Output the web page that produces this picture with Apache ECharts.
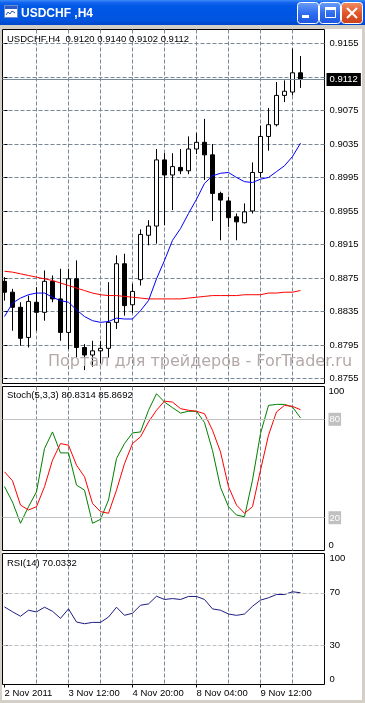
<!DOCTYPE html>
<html>
<head>
<meta charset="utf-8">
<script src="https://cdn.jsdelivr.net/npm/echarts@6/dist/echarts.min.js"></script>
<style>
html,body{margin:0;padding:0;background:#fff;}
#c{width:365px;height:703px;}
</style>
</head>
<body>
<div id="c"></div>
<script>
// ---------- DATA ----------
const barTimes = ['2 Nov 04:00','2 Nov 08:00','2 Nov 12:00','2 Nov 16:00','2 Nov 20:00','3 Nov 00:00','3 Nov 04:00','3 Nov 08:00','3 Nov 12:00','3 Nov 16:00','3 Nov 20:00','4 Nov 00:00','4 Nov 04:00','4 Nov 08:00','4 Nov 12:00','4 Nov 16:00','4 Nov 20:00','7 Nov 00:00','7 Nov 04:00','7 Nov 08:00','7 Nov 12:00','7 Nov 16:00','7 Nov 20:00','8 Nov 00:00','8 Nov 04:00','8 Nov 08:00','8 Nov 12:00','8 Nov 16:00','8 Nov 20:00','9 Nov 00:00','9 Nov 04:00','9 Nov 08:00','9 Nov 12:00','9 Nov 16:00','9 Nov 20:00','10 Nov 00:00','10 Nov 04:00','10 Nov 08:00'];

const openP  = [0.8871,0.8858,0.8840,0.8804,0.8846,0.8834,0.8871,0.8850,0.8810,0.8874,0.8792,0.8783,0.8788,0.8791,0.8822,0.8892,0.8843,0.8873,0.8926,0.8937,0.9016,0.8998,0.9007,0.9003,0.9029,0.9037,0.9022,0.8976,0.8967,0.8948,0.8941,0.8955,0.9001,0.9044,0.9058,0.9093,0.9097,0.9120];
const highP  = [0.8876,0.8862,0.8846,0.8854,0.8864,0.8884,0.8878,0.8886,0.8886,0.8896,0.8796,0.8800,0.8800,0.8870,0.8902,0.8904,0.8868,0.8933,0.8944,0.9029,0.9024,0.9024,0.9029,0.9044,0.9048,0.9065,0.9035,0.8978,0.8972,0.8952,0.8964,0.9013,0.9057,0.9078,0.9109,0.9111,0.9149,0.9140];
const lowP   = [0.8848,0.8812,0.8794,0.8792,0.8812,0.8824,0.8846,0.8800,0.8790,0.8780,0.8765,0.8769,0.8773,0.8780,0.8814,0.8830,0.8833,0.8866,0.8914,0.8916,0.8938,0.8956,0.8999,0.8999,0.9023,0.8992,0.8943,0.8920,0.8936,0.8920,0.8940,0.8952,0.8995,0.9027,0.9056,0.9085,0.9093,0.9102];
const closeP = [0.8858,0.8840,0.8803,0.8847,0.8834,0.8871,0.8850,0.8810,0.8874,0.8792,0.8783,0.8788,0.8791,0.8822,0.8892,0.8842,0.8859,0.8927,0.8937,0.9016,0.8998,0.9008,0.9003,0.9029,0.9037,0.9022,0.8976,0.8968,0.8947,0.8942,0.8954,0.9001,0.9044,0.9058,0.9093,0.9098,0.9120,0.9112];

const maFast = [0.8829,0.8845,0.8851,0.8855,0.8857,0.8857,0.8852,0.8848,0.8846,0.8837,0.8829,0.8824,0.8822,0.8823,0.8827,0.8826,0.8826,0.8836,0.8848,0.8874,0.8896,0.8920,0.8934,0.8952,0.8969,0.8988,0.8997,0.9000,0.9001,0.8995,0.8990,0.8989,0.8993,0.8995,0.9002,0.9009,0.9020,0.9036];
const maSlow = [0.8883,0.8882,0.8880,0.8878,0.8876,0.8874,0.8872,0.8869,0.8866,0.8863,0.8860,0.8857,0.8855,0.8854,0.8854,0.8853,0.8852,0.8851,0.8850,0.8850,0.8850,0.8850,0.8850,0.8851,0.8852,0.8853,0.8854,0.8854,0.8854,0.8854,0.8855,0.8855,0.8855,0.8857,0.8857,0.8858,0.8858,0.8860];

const stochMain   = [39,29.5,16.6,26.7,35.8,62.2,72.3,59.5,59.5,39.9,36.8,16.6,19,30.8,56.1,65.2,71.7,72.3,85.5,95.6,90.5,87.1,83.8,84.9,84.9,78,61,38.5,26.7,21.6,20.6,42.9,71.3,88.5,89.1,89.1,87.5,80.8314];
const stochSignal = [48,42.5,27.7,24.7,26.7,38.9,55.1,65.2,64.2,52,45,28.7,23.7,22.7,36.8,53,65.2,69.3,78.4,85.5,91.1,90.5,86.5,85.5,84.9,83.4,73.3,60.1,38.9,27.7,22.7,26.7,49,70.3,84.5,88.5,87.9,85.8692];
const rsiValues   = [59.2,55.5,52.1,56.7,55.4,59,55.9,50.5,57.7,47.7,46.4,47.4,47.4,51.5,59,52.8,54.4,60.5,61.5,67.4,64.9,65.6,64.9,67.2,67.2,64.9,57.7,56.7,53.8,52.8,53.8,59.7,64.4,66.2,68.7,68.7,70.8,70.0332];

const priceGridLevels  = [0.8755,0.8795,0.8835,0.8875,0.8915,0.8955,0.8995,0.9035,0.9075,0.9115,0.9155];
const priceLabelLevels = [0.8755,0.8795,0.8835,0.8875,0.8915,0.8955,0.8995,0.9035,0.9075,0.9155];
const stochLabelLevels = [0,20,80,100];
const stochLevels = [20,80];
const rsiLabelLevels = [0,30,70,100];
const rsiLevels = [30,70];
const gridBars = [4,8,12,16,20,24,28,32,36];
const xLabelBars = [0,8,16,24,32];
const xLabelTexts = ['2 Nov 2011','3 Nov 12:00','4 Nov 20:00','8 Nov 04:00','9 Nov 12:00'];

// ---------- CHART ----------
const FONT = '"Liberation Sans", Arial, sans-serif';
const GRIDC = '#778899';
const FRAME = '#d4d0c8';
const X_MIN = -0.25, X_MAX = 40;
const P_MIN = 0.87490, P_MAX = 0.91717;
const last = closeP.length - 1;

const candles = barTimes.map((t, i) => [i, openP[i], closeP[i], lowP[i], highP[i]]);
const pts = arr => arr.map((v, i) => [i, v]);

function splitX(gridIndex, extra) {
  return Object.assign({
    type: 'value', gridIndex: gridIndex, min: X_MIN, max: X_MAX,
    axisLine: {show: false}, axisLabel: {show: false},
    axisTick: {show: false, customValues: gridBars},
    splitLine: {show: true, lineStyle: {color: GRIDC, type: [4, 2], width: 1}}
  }, extra || {});
}
const lblStyle = {color: '#000', fontSize: 9.5, fontFamily: FONT};

const LG = (stops) => new echarts.graphic.LinearGradient(0, 0, 0, 1, stops.map(c => ({offset: c[0], color: c[1]})));

const option = {
  animation: false,
  backgroundColor: '#ffffff',
  textStyle: {fontFamily: FONT},
  grid: [
    {left: 2.5, top: 29.5, width: 322, height: 354, show: true, borderColor: '#000', borderWidth: 1, backgroundColor: 'transparent'},
    {left: 2.5, top: 386.5, width: 322, height: 164, show: true, borderColor: '#000', borderWidth: 1, backgroundColor: 'transparent'},
    {left: 2.5, top: 553.5, width: 322, height: 131, show: true, borderColor: '#000', borderWidth: 1, backgroundColor: 'transparent'}
  ],
  xAxis: [
    splitX(0), splitX(1), splitX(2, {position: 'top'}),
    {
      type: 'value', gridIndex: 2, position: 'bottom', min: X_MIN, max: X_MAX,
      axisLine: {show: false}, splitLine: {show: false},
      axisTick: {show: true, customValues: xLabelBars, length: 3, lineStyle: {color: '#000'}},
      axisLabel: Object.assign({show: true, customValues: xLabelBars, align: 'left', margin: 4,
        formatter: v => xLabelTexts[xLabelBars.indexOf(Math.round(v))] || ''}, lblStyle)
    }
  ],
  yAxis: [
    {
      type: 'value', gridIndex: 0, position: 'right', min: P_MIN, max: P_MAX,
      axisLine: {show: false},
      axisTick: {show: true, customValues: priceGridLevels, length: 3, lineStyle: {color: '#000'}},
      axisLabel: Object.assign({customValues: priceLabelLevels, margin: 5, formatter: v => v.toFixed(4)}, lblStyle),
      splitLine: {show: true, lineStyle: {color: GRIDC, type: [4, 2], width: 1}}
    },
    {
      type: 'value', gridIndex: 1, position: 'right', min: 0, max: 100,
      axisLine: {show: false}, splitLine: {show: false},
      axisTick: {show: true, customValues: stochLabelLevels, length: 3, lineStyle: {color: '#000'}},
      axisLabel: Object.assign({customValues: stochLabelLevels, margin: 4,
        verticalAlignMinLabel: 'bottom', verticalAlignMaxLabel: 'top',
        formatter: v => stochLevels.indexOf(v) >= 0 ? '{lvl|' + v + '}' : String(v),
        rich: {lvl: {backgroundColor: '#c0c0c0', color: '#fff', fontSize: 9.5, fontFamily: FONT, padding: [2, 1, 1, 1]}}
      }, lblStyle)
    },
    {
      type: 'value', gridIndex: 2, position: 'right', min: 0, max: 100,
      axisLine: {show: false}, splitLine: {show: false},
      axisTick: {show: true, customValues: rsiLabelLevels, length: 3, lineStyle: {color: '#000'}},
      axisLabel: Object.assign({customValues: rsiLabelLevels, margin: 5,
        verticalAlignMinLabel: 'bottom', verticalAlignMaxLabel: 'top',
        formatter: v => String(v)}, lblStyle)
    }
  ],
  series: [
    {
      type: 'candlestick', name: 'USDCHF,H4', xAxisIndex: 0, yAxisIndex: 0,
      data: candles, barWidth: 4,
      itemStyle: {color: '#ffffff', color0: '#000000', borderColor: '#000000', borderColor0: '#000000', borderWidth: 1}
    },
    {type: 'line', name: 'MA slow', xAxisIndex: 0, yAxisIndex: 0, data: pts(maSlow), showSymbol: false, symbol: 'none',
     lineStyle: {color: '#ff0000', width: 1}, z: 3,
     markLine: {
        silent: true, symbol: ['none', 'none'], animation: false, precision: 4,
        lineStyle: {color: GRIDC, type: 'solid', width: 1},
        label: {show: true, position: 'end', distance: 2, formatter: () => closeP[last].toFixed(4),
          backgroundColor: '#000', color: '#fff', fontSize: 9.5, fontFamily: FONT, padding: [2, 3, 1, 3]},
        data: [{yAxis: closeP[last]}]
     }},
    {type: 'line', name: 'MA fast', xAxisIndex: 0, yAxisIndex: 0, data: pts(maFast), showSymbol: false, symbol: 'none',
     lineStyle: {color: '#0000ff', width: 1}, z: 3},
    {type: 'line', name: 'Stoch main', xAxisIndex: 1, yAxisIndex: 1, data: pts(stochMain), showSymbol: false, symbol: 'none',
     lineStyle: {color: '#008000', width: 1},
     markLine: {silent: true, symbol: ['none', 'none'], label: {show: false},
       lineStyle: {color: '#c0c0c0', type: 'solid', width: 1},
       data: stochLevels.map(v => ({yAxis: v}))}},
    {type: 'line', name: 'Stoch signal', xAxisIndex: 1, yAxisIndex: 1, data: pts(stochSignal), showSymbol: false, symbol: 'none',
     lineStyle: {color: '#ff0000', width: 1}},
    {type: 'line', name: 'RSI(14)', xAxisIndex: 2, yAxisIndex: 2, data: pts(rsiValues), showSymbol: false, symbol: 'none',
     lineStyle: {color: '#1c1c84', width: 1},
     markLine: {silent: true, symbol: ['none', 'none'], label: {show: false},
       lineStyle: {color: '#c0c0c0', type: [4, 2], width: 1},
       data: rsiLevels.map(v => ({yAxis: v}))}}
  ],
  graphic: [
    // window frame
    {type: 'rect', z: 50, silent: true, shape: {x: 0, y: 25, width: 365, height: 4}, style: {fill: FRAME}},
    {type: 'rect', z: 50, silent: true, shape: {x: 0, y: 25, width: 2, height: 678}, style: {fill: FRAME}},
    {type: 'rect', z: 50, silent: true, shape: {x: 362, y: 25, width: 3, height: 678}, style: {fill: FRAME}},
    {type: 'rect', z: 50, silent: true, shape: {x: 0, y: 700, width: 365, height: 3}, style: {fill: FRAME}},
    // title bar
    {type: 'rect', z: 50, silent: true, shape: {x: 0, y: 0, width: 365, height: 25},
     style: {fill: LG([[0, '#3d8af7'], [0.1, '#1566ee'], [0.25, '#0058e6'], [0.8, '#0054e0'], [1, '#0046c8']])}},
    // icon
    {type: 'rect', z: 51, silent: true, shape: {x: 4.5, y: 5.5, width: 13, height: 12}, style: {fill: '#ffffff', stroke: '#6f8fc8', lineWidth: 1}},
    {type: 'rect', z: 52, silent: true, shape: {x: 5, y: 6, width: 12, height: 3}, style: {fill: '#2b5cc8'}},
    {type: 'polyline', z: 52, silent: true, shape: {points: [[6, 15], [8, 12], [10, 14], [12, 11], [15, 13]]}, style: {stroke: '#2b5cc8', lineWidth: 1, fill: 'none'}},
    {type: 'text', z: 52, silent: true, style: {text: 'USDCHF ,H4', x: 21, y: 13.5, fill: '#ffffff', fontSize: 12, fontWeight: 'bold', fontFamily: FONT, verticalAlign: 'middle',
      textShadowColor: '#0a2a80', textShadowOffsetX: 1, textShadowOffsetY: 1, textShadowBlur: 0}},
    // buttons
    {type: 'rect', z: 51, silent: true, shape: {x: 297.5, y: 2.5, width: 21, height: 21, r: 3}, style: {fill: LG([[0, '#6fa0f8'], [0.5, '#2f6ef0'], [1, '#1b55dc']]), stroke: '#ffffff', lineWidth: 1}},
    {type: 'rect', z: 52, silent: true, shape: {x: 302, y: 15, width: 7, height: 3}, style: {fill: '#ffffff'}},
    {type: 'rect', z: 51, silent: true, shape: {x: 319.5, y: 2.5, width: 21, height: 21, r: 3}, style: {fill: LG([[0, '#6fa0f8'], [0.5, '#2f6ef0'], [1, '#1b55dc']]), stroke: '#ffffff', lineWidth: 1}},
    {type: 'rect', z: 52, silent: true, shape: {x: 325.5, y: 7.5, width: 10, height: 10}, style: {fill: 'none', stroke: '#ffffff', lineWidth: 1}},
    {type: 'rect', z: 52, silent: true, shape: {x: 325, y: 7, width: 11, height: 3}, style: {fill: '#ffffff'}},
    {type: 'rect', z: 51, silent: true, shape: {x: 341.5, y: 2.5, width: 21, height: 21, r: 3}, style: {fill: LG([[0, '#f0916a'], [0.5, '#e2582c'], [1, '#c8401c']]), stroke: '#ffffff', lineWidth: 1}},
    {type: 'line', z: 52, silent: true, shape: {x1: 347, y1: 8, x2: 357, y2: 18}, style: {stroke: '#ffffff', lineWidth: 2}},
    {type: 'line', z: 52, silent: true, shape: {x1: 357, y1: 8, x2: 347, y2: 18}, style: {stroke: '#ffffff', lineWidth: 2}},
    // panel headers
    {type: 'text', z: 55, silent: true, style: {text: 'USDCHF,H4  ' + [openP[last], highP[last], lowP[last], closeP[last]].map(v => v.toFixed(4)).join(' '),
      x: 7, y: 39, fill: '#000', fontSize: 9.5, fontFamily: FONT, verticalAlign: 'middle'}},
    {type: 'text', z: 55, silent: true, style: {text: 'Stoch(5,3,3) ' + stochMain[last].toFixed(4) + ' ' + stochSignal[last].toFixed(4),
      x: 7, y: 395.5, fill: '#000', fontSize: 9.5, fontFamily: FONT, verticalAlign: 'middle'}},
    {type: 'text', z: 55, silent: true, style: {text: 'RSI(14) ' + rsiValues[last].toFixed(4),
      x: 7, y: 563.5, fill: '#000', fontSize: 9.5, fontFamily: FONT, verticalAlign: 'middle'}},
    // watermark
    {type: 'text', z: 60, silent: true, style: {text: 'Портал для трейдеров - ForTrader.ru', x: 48, y: 361.5,
      fill: '#b4a9a9', fontSize: 16, fontFamily: '"DejaVu Sans", sans-serif', verticalAlign: 'middle'}}
  ]
};

const chart = echarts.init(document.getElementById('c'), null, {renderer: 'canvas', width: 365, height: 703});
chart.setOption(option);
</script>
</body>
</html>
